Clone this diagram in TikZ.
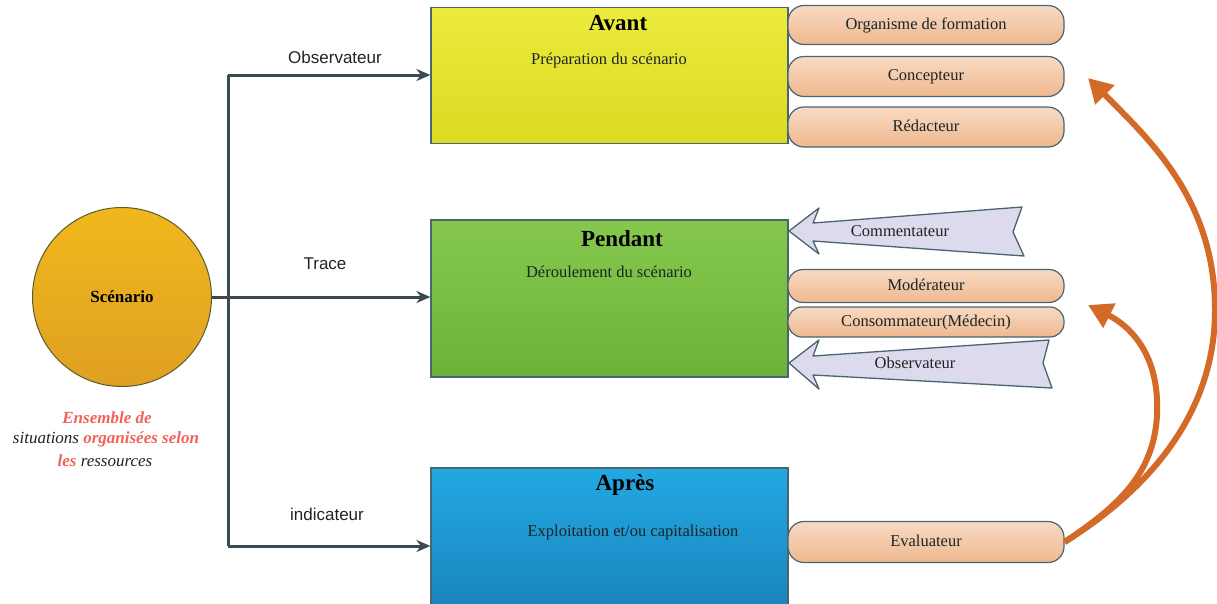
\documentclass[tikz,border=0pt]{standalone}
\usepackage{fontspec}
\setmainfont{Liberation Serif}
\setsansfont{Liberation Sans}
\usetikzlibrary{arrows.meta,shapes.geometric}
\definecolor{slate}{HTML}{3A4A50}
\definecolor{edge}{HTML}{4A6470}
\definecolor{ylwT}{HTML}{ECEA3C}
\definecolor{ylwB}{HTML}{DCDA22}
\definecolor{grnT}{HTML}{86C84E}
\definecolor{grnB}{HTML}{6CB238}
\definecolor{bluT}{HTML}{22A8E2}
\definecolor{bluB}{HTML}{1A86BE}
\definecolor{pchT}{HTML}{F8DAC4}
\definecolor{pchB}{HTML}{EEB88E}
\definecolor{gldT}{HTML}{F0B81C}
\definecolor{gldB}{HTML}{DFA022}
\definecolor{lav}{HTML}{DCDAEC}
\definecolor{orng}{HTML}{D36A28}
\definecolor{redtxt}{HTML}{F0625A}
\definecolor{txt}{HTML}{1C2426}
\tikzset{
  phasebox/.style={draw=edge,line width=1.2pt,minimum width=357pt,inner sep=0pt},
  rolebox/.style={draw=edge,line width=1.2pt,top color=pchT,bottom color=pchB,
     rounded corners=16pt,minimum width=276pt,inner sep=0pt,text height=11.5pt,text depth=3.5pt,
     font=\fontsize{16.5}{18}\selectfont,text=txt},
  title/.style={font=\fontsize{23}{26}\selectfont\bfseries,text=black},
  subtitle/.style={font=\fontsize{16.5}{19}\selectfont,text=txt},
  lbl/.style={font=\sffamily\fontsize{17}{19}\selectfont,text=txt},
  conn/.style={draw=slate,line width=3pt,-{Stealth[length=14pt,width=12pt]}},
  flag/.style={draw=edge,line width=1.3pt,fill=lav,line join=round},
  flagtext/.style={font=\fontsize{16.5}{18}\selectfont,text=txt,text height=11.5pt,text depth=3.5pt},
  curv/.style={draw=orng,line width=6pt,-{Triangle[length=24pt,width=26pt]}},
  desc/.style={font=\fontsize{17}{20}\selectfont\itshape,text=txt,inner sep=0pt}
}
\newcommand{\rdt}[1]{{\bfseries\color{redtxt}#1}}
\begin{document}
\begin{tikzpicture}[x=1pt,y=-1pt]
\useasboundingbox (0,0) rectangle (1217,603);
% central circle
\node[circle,draw={rgb,255:red,90;green,90;blue,48},line width=1pt,top color=gldT,bottom color=gldB,
  minimum size=179pt,inner sep=0pt,font=\fontsize{17}{20}\selectfont\bfseries] (sc) at (122,297) {Scénario};
% phase boxes
\node[phasebox,top color=ylwT,bottom color=ylwB,minimum height=136pt] (avant) at (609.5,75.5) {};
\node[phasebox,top color=grnT,bottom color=grnB,minimum height=157pt] (pendant) at (609.5,298.5) {};
\node[phasebox,top color=bluT,bottom color=bluB,minimum height=137pt] (apres) at (609.5,536.5) {};
\node[title] (tavant) at (618,23) {Avant};
\node[subtitle] (savant) at (609,61) {Préparation du scénario};
\node[title] (tpendant) at (622,239) {Pendant};
\node[subtitle] (spendant) at (609,272) {Déroulement du scénario};
\node[title] (tapres) at (625,485) {Après};
\node[subtitle] (sapres) at (633,533) {Exploitation et/ou capitalisation};
% connectors
\coordinate (jt) at (228,75);
\coordinate (jb) at (228,546);
\draw[slate,line width=3pt] (jt) -- (jb);
\draw[conn] (jt) -- (avant.west |- jt);
\draw[conn] (sc.east) -- (pendant.west |- sc.east);
\draw[conn] (jb) -- (apres.west |- jb);
\node[lbl] (lobs) at (335,57) {Observateur};
\node[lbl] (ltrace) at (325,264) {Trace};
\node[lbl] (lind) at (327,514) {indicateur};
% description
\node[desc] (e1) at (107,418) {\rdt{Ensemble de}};
\node[desc] (e2) at (106,439) {situations \rdt{organisées selon}};
\node[desc] (e3) at (105,461) {\rdt{les} ressources};
% role boxes
\node[rolebox,minimum height=39pt] (org) at (926,25) {Organisme de formation};
\node[rolebox,minimum height=40pt] (conc) at (926,76.5) {Concepteur};
\node[rolebox,minimum height=40pt] (red) at (926,127) {Rédacteur};
\node[rolebox,minimum height=33pt,rounded corners=15pt] (mod) at (926,286) {Modérateur};
\node[rolebox,minimum height=30pt,rounded corners=14pt] (cons) at (926,322) {Consommateur(Médecin)};
\node[rolebox,minimum height=41pt] (eval) at (926,542) {Evaluateur};
% flag arrows
\draw[flag] (789,231) -- (819,208) -- (813,223) -- (1022,207) -- (1013,232) -- (1024,256) -- (813,241) -- (819,254) -- cycle;
\node[flagtext] (comm) at (900,232) {Commentateur};
\draw[flag] (789,363) -- (819,340) -- (813,356) -- (1049,340) -- (1043,363) -- (1052,388) -- (813,375) -- (819,389) -- cycle;
\node[flagtext] (obs2) at (915,364) {Observateur};
% orange curves
\coordinate (bigtip) at (1088,78);
\coordinate (smalltip) at (1088,305);
\draw[curv] (eval.east) .. controls (1140,495) and (1215,420) .. (1215,310)
   .. controls (1215,200) and (1150,140) .. (bigtip);
\draw[curv] (eval.east) .. controls (1120,505) and (1160,470) .. (1157,400)
   .. controls (1155,350) and (1128,325) .. (smalltip);
\end{tikzpicture}
\end{document}
